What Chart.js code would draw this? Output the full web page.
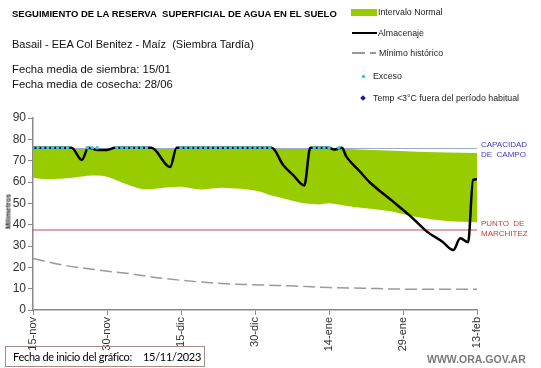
<!DOCTYPE html>
<html lang="es">
<head>
<meta charset="UTF-8">
<title>Seguimiento de la reserva superficial de agua en el suelo</title>
<script src="https://cdn.jsdelivr.net/npm/chart.js@4.4.1/dist/chart.umd.min.js"></script>
<style>
  body { margin: 0; background: #fff; }
  #wrap { position: relative; width: 541px; height: 368px; font-family: "Liberation Sans", Arial, sans-serif; color: #000; overflow: hidden; }
  #wrap canvas { position: absolute; left: 0; top: 0; }
  .t { position: absolute; white-space: nowrap; line-height: 1; }
  .sw { position: absolute; }
</style>
</head>
<body>
<div id="wrap">
  <canvas id="graph" width="541" height="368"></canvas>

  <div class="t" style="left:12px; top:9px; font-size:9.5px; font-weight:bold;">SEGUIMIENTO DE LA RESERVA&nbsp; SUPERFICIAL DE AGUA EN EL SUELO</div>
  <div class="t" style="left:12px; top:39px; font-size:11px; color:#111;">Basail - EEA Col Benitez - Maíz&nbsp; (Siembra Tardía)</div>
  <div class="t" style="left:12px; top:64px; font-size:11.3px; color:#111;">Fecha media de siembra: 15/01</div>
  <div class="t" style="left:12px; top:79px; font-size:11.3px; color:#111;">Fecha media de cosecha: 28/06</div>

  <!-- leyenda -->
  <div class="sw" style="left:351px; top:9px; width:26px; height:7px; background:#99cc00;"></div>
  <div class="t" style="left:378px; top:8px; font-size:8.8px; color:#222;">Intervalo Normal</div>
  <div class="sw" style="left:352px; top:32px; width:25px; height:2px; background:#000;"></div>
  <div class="t" style="left:378px; top:29px; font-size:8.8px; color:#222;">Almacenaje</div>
  <div class="sw" style="left:352px; top:52px; width:13px; height:1.5px; background:#999;"></div>
  <div class="sw" style="left:370px; top:52px; width:6px; height:1.5px; background:#999;"></div>
  <div class="t" style="left:379px; top:49px; font-size:8.8px; color:#222;">Mínimo histórico</div>
  <div class="sw" style="left:362px; top:75px; width:3px; height:3px; background:#36c6e6; border-radius:1px;"></div>
  <div class="t" style="left:373px; top:72px; font-size:8.8px; color:#222;">Exceso</div>
  <div class="sw" style="left:361px; top:96px; width:4px; height:4px; background:#1a1a99; transform:rotate(45deg);"></div>
  <div class="t" style="left:373px; top:94px; font-size:8.8px; color:#222;">Temp &lt;3°C fuera del período habitual</div>

  <!-- etiquetas de referencia -->
  <div class="t" style="left:481px; top:141px; font-size:8px; color:#3b3bb8;">CAPACIDAD</div>
  <div class="t" style="left:481px; top:151px; font-size:8px; color:#3b3bb8;">DE&nbsp; CAMPO</div>
  <div class="t" style="left:481px; top:220px; font-size:8px; color:#d03a3a;">PUNTO&nbsp; DE</div>
  <div class="t" style="left:481px; top:230px; font-size:8px; color:#d03a3a;">MARCHITEZ</div>

  <div class="t" style="left:-10px; top:208px; font-size:7px; font-weight:bold; color:#222; transform:rotate(-90deg); width:36px; text-align:center;">Milímetros</div>

  <div style="position:absolute; left:5px; top:346px; width:198px; height:19px; border:1px solid #a58c8c; font-family:Lato, sans-serif; font-size:11px; letter-spacing:-0.3px; line-height:19px; white-space:nowrap;">
    <span style="margin-left:7px;">Fecha de inicio del gráfico:</span><span style="margin-left:11px;">15/11/2023</span>
  </div>
  <div class="t" style="left:427px; top:354px; font-size:10.5px; font-weight:bold; color:#7a7a7a;">WWW.ORA.GOV.AR</div>
</div>

<script>
    // eje x en días desde 15-nov
    const fechas = ['15-nov', '30-nov', '15-dic', '30-dic', '14-ene', '29-ene', '13-feb'];

    const capacidadCampo = 75.7;
    const puntoMarchitez = 37.5;

    // intervalo normal (franja verde)
    const normDias = [0, 3, 8, 12, 15, 19, 22.5, 26.5, 30, 34, 38.5, 45.5, 48, 52, 55, 58, 60, 64, 66, 72, 78, 84, 90];
    const normMax  = [75.7, 75.7, 75.7, 75.7, 75.7, 75.7, 75.7, 75.7, 75.7, 75.7, 75.7, 75.7, 75.7, 75.7, 75.7, 75.7, 75.6, 75.5, 75.2, 74.8, 74.2, 73.8, 73.6];
    const normMin  = [62, 61.3, 62, 63, 62.5, 58.9, 56.6, 57.3, 57.8, 56.5, 57.3, 55.8, 53.9, 51.6, 50, 49.5, 50, 48.6, 48, 46.4, 43.5, 41.7, 41.1];

    // almacenaje
    const almDias    = [0, 7.8, 9.9, 11.2, 13, 15, 16.6, 24, 27.8, 29.1, 48.4, 50.7, 52.7, 55, 56.2, 60, 61, 62.6, 63.5, 66.3, 68.2, 73, 76.5, 80, 83, 85.2, 86.6, 88.2, 89.2, 90];
    const almValores = [76, 76, 70.3, 76, 75, 75, 76, 76, 67, 76, 76, 68, 63.3, 58.4, 76, 76, 75.2, 76, 72, 64.8, 60, 50.8, 44, 36.5, 32, 28.1, 33.6, 31.7, 61, 61.3];

    // mínimo histórico
    const minDias    = [0, 6, 13, 20, 26.5, 33, 40, 46.5, 53.5, 60, 67, 74, 80.5, 90];
    const minValores = [24.2, 21.1, 18.8, 16.9, 14.8, 13.3, 12.2, 11.7, 11.2, 10.5, 10.2, 9.8, 9.7, 9.7];

    // exceso
    const excesoDias = [0, 1, 2, 3, 4, 5, 6, 7, 11, 12, 13, 17, 18, 19, 20, 21, 22, 23,
        30, 31, 32, 33, 34, 35, 36, 37, 38, 39, 40, 41, 42, 43, 44, 45, 46, 47, 48,
        57, 58, 59, 60, 62];
    const excesoValor = 76;

    const pares = (xs, ys) => xs.map((x, i) => ({ x: x, y: ys[i] }));

    const ctx = document.getElementById('graph').getContext('2d');
    const chart = new Chart(ctx, {
        type: 'line',
        data: {
            datasets: [
                {
                    label: 'Exceso',
                    data: excesoDias.map(d => ({ x: d, y: excesoValor })),
                    showLine: false,
                    pointRadius: 1.8,
                    pointBackgroundColor: '#36c6e6',
                    pointBorderWidth: 0,
                    order: 0
                },
                {
                    label: 'Almacenaje',
                    data: pares(almDias, almValores),
                    borderColor: '#000',
                    borderWidth: 2.5,
                    pointRadius: 0,
                    cubicInterpolationMode: 'monotone',
                    fill: false,
                    order: 1
                },
                {
                    label: 'Capacidad de campo',
                    data: [{ x: 0, y: capacidadCampo }, { x: 90, y: capacidadCampo }],
                    borderColor: '#9aaccc',
                    borderWidth: 1,
                    pointRadius: 0,
                    fill: false,
                    order: 2
                },
                {
                    label: 'Punto de marchitez',
                    data: [{ x: 0, y: puntoMarchitez }, { x: 90, y: puntoMarchitez }],
                    borderColor: '#c0504d',
                    borderWidth: 1,
                    pointRadius: 0,
                    fill: false,
                    order: 3
                },
                {
                    label: 'Mínimo histórico',
                    data: pares(minDias, minValores),
                    borderColor: '#9a9a9a',
                    borderWidth: 1.5,
                    borderDash: [12, 5],
                    pointRadius: 0,
                    cubicInterpolationMode: 'monotone',
                    fill: false,
                    order: 4
                },
                {
                    label: 'Normal max',
                    data: pares(normDias, normMax),
                    borderWidth: 0,
                    pointRadius: 0,
                    fill: false,
                    order: 6
                },
                {
                    label: 'Intervalo Normal',
                    data: pares(normDias, normMin),
                    borderWidth: 0,
                    pointRadius: 0,
                    tension: 0.3,
                    backgroundColor: '#99cc00',
                    fill: '-1',
                    order: 5
                }
            ]
        },
        options: {
            responsive: false,
            devicePixelRatio: 1,
            animation: false,
            layout: { padding: { left: 0, top: 118, right: 64, bottom: 0 } },
            plugins: { legend: { display: false }, tooltip: { enabled: false } },
            scales: {
                x: {
                    type: 'linear',
                    min: 0,
                    max: 90,
                    afterFit: (s) => { s.height = 58; },
                    afterBuildTicks: (s) => { s.ticks = fechas.map((f, i) => ({ value: i * 15 })); },
                    ticks: {
                        autoSkip: false,
                        minRotation: 90,
                        maxRotation: 90,
                        padding: 2,
                        color: '#333',
                        font: { family: 'Liberation Sans', size: 11 },
                        callback: (v) => fechas[Math.round(v / 15)]
                    },
                    grid: { drawOnChartArea: false, drawTicks: true, tickLength: 5, color: '#8a8a8a' },
                    border: { color: '#8a8a8a', width: 1.5 }
                },
                y: {
                    min: 0,
                    max: 90,
                    afterFit: (s) => { s.width = 33; },
                    ticks: {
                        stepSize: 10,
                        padding: 2,
                        color: '#333',
                        font: { family: 'Liberation Sans', size: 12 }
                    },
                    grid: { drawOnChartArea: false, drawTicks: true, tickLength: 5, color: '#8a8a8a' },
                    border: { color: '#8a8a8a', width: 1.5 }
                }
            }
        }
    });
</script>
</body>
</html>
